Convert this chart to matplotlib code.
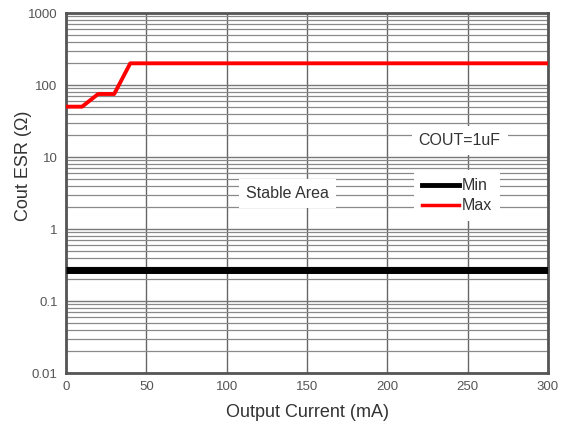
import matplotlib
matplotlib.use('Agg')
import matplotlib.pyplot as plt
from matplotlib.ticker import FixedLocator, FixedFormatter, LogLocator, NullFormatter
from matplotlib.lines import Line2D

plt.rcParams['font.family'] = ['Liberation Sans', 'DejaVu Sans']

# data
current_max = [0, 10, 20, 30, 40, 300]
esr_max = [50, 50, 75, 75, 200, 200]
current_min = [0, 300]
esr_min = [0.27, 0.27]

y_ticks = [0.01, 0.1, 1, 10, 100, 1000]
y_labels = ['0.01', '0.1', '1', '10', '100', '1000']
x_ticks = [0, 50, 100, 150, 200, 250, 300]

fig = plt.figure(figsize=(5.69, 4.29), dpi=100)
ax = fig.add_axes([66 / 569, 1 - 373 / 429, 482 / 569, 360 / 429])

ax.set_yscale('log')
ax.set_xlim(0, 300)
ax.set_ylim(0.01, 1000)

ax.yaxis.set_major_locator(FixedLocator(y_ticks))
ax.yaxis.set_major_formatter(FixedFormatter(y_labels))
ax.yaxis.set_minor_locator(LogLocator(base=10, subs=range(2, 10)))
ax.yaxis.set_minor_formatter(NullFormatter())
ax.set_xticks(x_ticks)

ax.grid(True, which='major', axis='x', color='#666666', linewidth=1.0)
ax.grid(True, which='major', axis='y', color='#777777', linewidth=1.0)
ax.grid(True, which='minor', axis='y', color='#8a8a8a', linewidth=0.9)
ax.tick_params(which='both', length=0, labelsize=9.5, colors='#555555', pad=6)
ax.set_axisbelow(True)

for s in ax.spines.values():
    s.set_linewidth(2)
    s.set_color('#555555')

ax.plot(current_min, esr_min, color='black', linewidth=5, solid_capstyle='butt', zorder=3)
ax.plot(current_max, esr_max, color='#ff0000', linewidth=2.8, zorder=3)

box = dict(facecolor='white', edgecolor='none', pad=5)
ax.text(245, 17, 'COUT=1uF', fontsize=11.5, color='#333333', ha='center', va='center', bbox=box, zorder=4)
ax.text(138, 3.1, 'Stable Area', fontsize=11.5, color='#333333', ha='center', va='center', bbox=box, zorder=4)

handles = [Line2D([], [], color='black', linewidth=3.5),
           Line2D([], [], color='#ff0000', linewidth=2.5)]
leg = ax.legend(handles, ['Min', 'Max'], loc='upper left', bbox_to_anchor=(0.705, 0.585),
                frameon=True, fontsize=11.5, handlelength=2.3, handletextpad=0.2,
                labelspacing=0.3, borderpad=0.5)
leg.get_frame().set_edgecolor('none')
leg.get_frame().set_facecolor('white')
leg.get_frame().set_alpha(1)
for t in leg.get_texts():
    t.set_color('#333333')

ax.set_xlabel('Output Current (mA)', fontsize=13, color='#333333', labelpad=8)
fig.text(24 / 569, 1 - 166 / 429, 'Cout ESR (Ω)', fontsize=13, color='#333333',
         rotation=90, ha='center', va='center')

fig.savefig('out.png', dpi=100)
